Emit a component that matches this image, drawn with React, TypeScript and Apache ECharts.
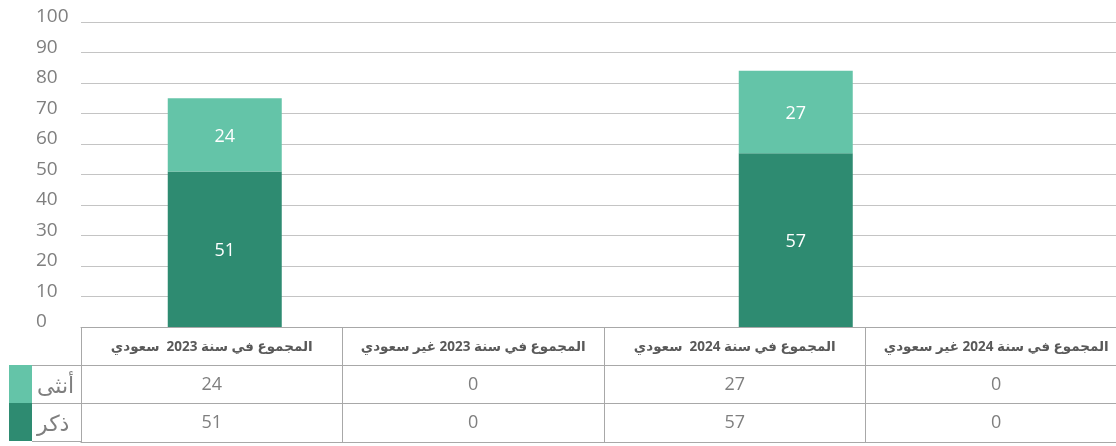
import React, { useEffect, useRef } from "react";
import * as echarts from "echarts";

const categories = [
  "المجموع في سنة 2023  سعودي",
  "المجموع في سنة 2023 غير سعودي",
  "المجموع في سنة 2024  سعودي",
  "المجموع في سنة 2024 غير سعودي",
];
const femaleName = "أنثى";
const maleName = "ذكر";
const femaleValues = [24, 0, 27, 0];
const maleValues = [51, 0, 57, 0];
const yTicks = [0, 10, 20, 30, 40, 50, 60, 70, 80, 90, 100];

const LIGHT = "#64C4A8";
const DARK = "#2E8B71";
const GRID_LINE = "#C4C4C4";
const TABLE_LINE = "#A8A8A8";
const TEXT = "#7F7F7F";
const FONT = "'Open Sans', 'DejaVu Sans', sans-serif";

export default function App() {
  const ref = useRef<HTMLDivElement>(null);
  useEffect(() => {
    if (!ref.current) return;
    const chart = echarts.init(ref.current, undefined, { renderer: "svg" });
    const rowAxis = (values: number[] | null, offset: number) => ({
      type: "category",
      gridIndex: 0,
      position: "bottom",
      offset,
      data: values ? values.map((v) => String(v)) : categories.map(() => ""),
      axisLine: { show: true, lineStyle: { color: TABLE_LINE, width: 1 } },
      axisTick: { show: false },
      splitLine: { show: false },
      axisLabel: {
        show: !!values,
        interval: 0,
        margin: 9,
        fontSize: 18,
        color: TEXT,
        fontFamily: FONT,
      },
    });
    chart.setOption({
      animation: false,
      grid: [
        { left: 81, width: 1046, top: 22, bottom: 119, containLabel: false, outerBoundsMode: "none" },
        { left: 82, width: 1142, top: 22, bottom: 119, containLabel: false, outerBoundsMode: "none" },
      ],
      legend: {
        orient: "vertical",
        left: 9,
        top: 365,
        padding: 0,
        itemGap: 0,
        itemWidth: 23,
        itemHeight: 38,
        icon: "rect",
        selectedMode: false,
        data: [femaleName, maleName],
        textStyle: { fontSize: 22, color: TEXT, fontFamily: FONT },
      },
      xAxis: [
        {
          type: "category",
          gridIndex: 0,
          data: categories,
          axisLine: { show: true, lineStyle: { color: TABLE_LINE, width: 1 } },
          axisTick: {
            show: true,
            interval: 0,
            length: 115,
            lineStyle: { color: TABLE_LINE, width: 1 },
          },
          axisLabel: {
            interval: 0,
            margin: 12,
            fontSize: 13.5,
            fontWeight: "bold",
            color: "#595959",
            fontFamily: FONT,
          },
        },
        rowAxis(femaleValues, 38),
        rowAxis(maleValues, 76),
        rowAxis(null, 115),
        {
          type: "category",
          gridIndex: 1,
          data: categories,
          show: false,
        },
      ],
      yAxis: [
        {
          type: "value",
          gridIndex: 0,
          min: 0,
          max: 100,
          interval: 10,
          axisLine: { show: false },
          axisTick: { show: false },
          splitLine: { lineStyle: { color: GRID_LINE, width: 1.2 } },
          axisLabel: {
            align: "left",
            verticalAlign: "bottom",
            lineHeight: 14,
            margin: 45,
            fontSize: 19,
            color: TEXT,
            fontFamily: FONT,
            formatter: (v: number) => (yTicks.includes(v) ? String(v) : ""),
          },
        },
        {
          type: "value",
          gridIndex: 1,
          min: 0,
          max: 100,
          interval: 10,
          show: false,
          splitLine: { show: false },
        },
      ],
      series: [
        {
          name: maleName,
          type: "bar",
          stack: "total",
          xAxisIndex: 4,
          yAxisIndex: 1,
          data: maleValues,
          barWidth: 114,
          itemStyle: { color: DARK },
          label: {
            show: true,
            position: "inside",
            color: "#FFFFFF",
            fontSize: 18,
            fontFamily: FONT,
            formatter: (p: any) => (p.value > 0 ? String(p.value) : ""),
          },
        },
        {
          name: femaleName,
          type: "bar",
          stack: "total",
          xAxisIndex: 4,
          yAxisIndex: 1,
          data: femaleValues,
          barWidth: 114,
          itemStyle: { color: LIGHT },
          label: {
            show: true,
            position: "inside",
            color: "#FFFFFF",
            fontSize: 18,
            fontFamily: FONT,
            formatter: (p: any) => (p.value > 0 ? String(p.value) : ""),
          },
        },
      ],
      graphic: [
        { type: "line", shape: { x1: 32, y1: 365.5, x2: 81, y2: 365.5 }, style: { stroke: TABLE_LINE, lineWidth: 1 } },
        { type: "line", shape: { x1: 32, y1: 403.5, x2: 81, y2: 403.5 }, style: { stroke: TABLE_LINE, lineWidth: 1 } },
        { type: "line", shape: { x1: 32, y1: 441.5, x2: 81, y2: 441.5 }, style: { stroke: TABLE_LINE, lineWidth: 1 } },
      ],
    });
    return () => chart.dispose();
  }, []);
  return (
    <div
      ref={ref}
      style={{ position: "fixed", left: 0, top: 0, width: 1116, height: 446 }}
    />
  );
}
